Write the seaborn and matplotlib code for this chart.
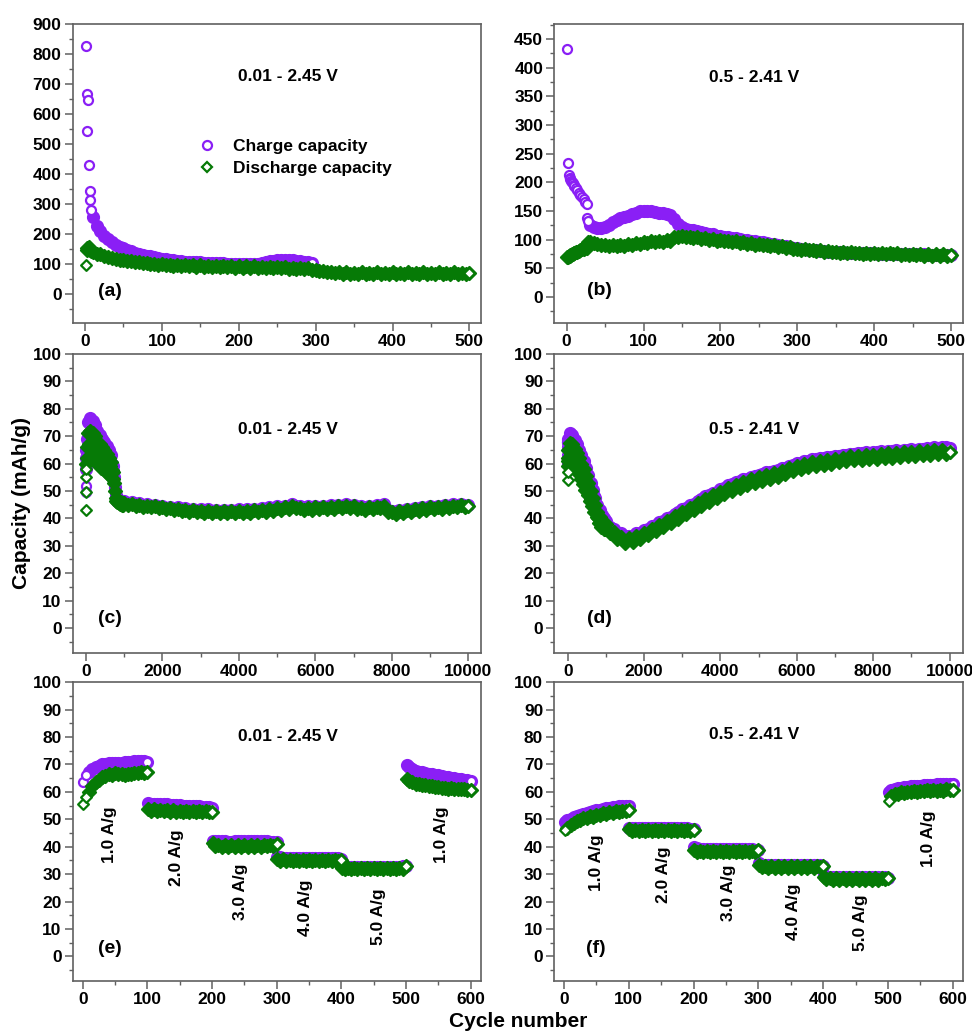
import numpy as np
import matplotlib
matplotlib.use("Agg")
import matplotlib.pyplot as plt
from matplotlib.lines import Line2D
from matplotlib.ticker import MultipleLocator
import seaborn as sns

sns.set_style("ticks")
plt.rcParams["font.family"] = ["Liberation Sans", "DejaVu Sans"]
plt.rcParams["font.weight"] = "bold"
plt.rcParams["text.color"] = "black"

PURPLE = "#8a1ff5"
GREEN = "#067a06"

# ======== (a) 0.01 - 2.45 V, 500 cycles ========
a_head_cyc = [1, 2, 3, 4, 5, 6, 7, 8]
a_chg_head = [827, 543, 665, 645, 430, 344, 313, 280]
a_dis_head = [97, 148, 152, 153, 155, 150, 147, 144]
a_chg_cyc = np.arange(10, 296, 5)
a_chg = [255, 228, 210, 194, 182, 172, 164, 157, 152, 147,
         142, 138, 134, 131, 128, 125, 122, 120, 118, 116,
         114, 112, 110, 109, 108, 107, 106, 105, 105, 104,
         104, 103, 103, 102, 102, 101, 101, 100, 100, 100,
         100, 100, 100, 101, 103, 106, 109, 111, 112, 113,
         113, 113, 112, 111, 110, 108, 106, 104]
a_dis_cyc = np.arange(10, 501, 5)
a_dis = [140, 134, 132, 125, 124, 119, 118, 113, 113, 109,
         109, 105, 106, 102, 103, 99, 101, 97, 99, 96,
         98, 94, 97, 93, 96, 92, 96, 91, 95, 91,
         94, 90, 94, 89, 93, 89, 93, 88, 93, 88,
         92, 88, 92, 87, 91, 86, 90, 86, 90, 85,
         89, 84, 88, 83, 86, 82, 85, 80, 80, 76,
         77, 72, 73, 69, 72, 68, 72, 67, 71, 67,
         72, 67, 71, 67, 72, 66, 71, 67, 72, 66,
         71, 67, 72, 66, 71, 67, 72, 66, 71, 67,
         72, 66, 71, 67, 72, 66, 71, 67, 70]

# ======== (b) 0.5 - 2.41 V, 500 cycles ========
b_head_cyc = [1, 2, 3, 4, 5, 6, 7, 8, 9, 10, 12, 14, 16, 18, 20, 22, 24, 26, 27, 28]
b_chg_head = [432, 233, 212, 208, 205, 203, 200, 198, 196, 194,
              190, 186, 182, 178, 175, 170, 166, 162, 138, 132]
b_dis_head = [70, 70, 71, 72, 73, 73, 74, 75, 76, 77,
              78, 79, 80, 82, 83, 84, 85, 86, 93, 95]
b_body_cyc = np.arange(30, 501, 5)
b_chg = [125, 122, 120, 120, 122, 126, 130, 134, 137, 140,
         142, 145, 147, 149, 150, 150, 149, 148, 147, 146,
         145, 143, 136, 128, 122, 119, 117, 116, 115, 113,
         112, 110, 109, 107, 106, 105, 104, 103, 102, 101,
         100, 99, 98, 97, 96, 95, 94, 93, 92, 91,
         89, 88, 87, 86, 85, 84, 83, 82, 82, 81,
         80, 80, 79, 79, 78, 78, 78, 77, 77, 77,
         76, 76, 76, 76, 76, 75, 75, 75, 75, 75,
         75, 74, 74, 74, 74, 74, 74, 74, 73, 73,
         73, 73, 73, 73, 73]
b_dis = [96, 94, 93, 90, 90, 88, 90, 88, 91, 89,
         93, 91, 94, 93, 96, 94, 97, 95, 98, 96,
         99, 97, 104, 105, 107, 105, 105, 103, 104, 101,
         102, 100, 101, 98, 100, 97, 98, 96, 97, 94,
         96, 93, 94, 91, 93, 90, 91, 88, 90, 87,
         88, 85, 87, 83, 84, 82, 83, 81, 82, 80,
         81, 79, 80, 78, 79, 77, 79, 77, 78, 76,
         77, 75, 77, 75, 76, 74, 76, 74, 76, 74,
         76, 73, 75, 73, 75, 73, 75, 72, 74, 72,
         74, 72, 74, 72, 73]

# ======== (c) 0.01 - 2.45 V, 10000 cycles ========
c_head_cyc = [1, 2, 3, 4, 5]
c_chg_head = [52, 49.5, 58, 62, 65]
c_dis_head = [43, 49.5, 55, 58, 60]
c_early_cyc = np.arange(20, 1000, 20)
c_chg_early = [69, 65, 75, 71, 66, 76.5, 71, 66, 75.5, 70,
               65, 74, 69, 64, 72, 68, 63, 70.5, 66.5, 62,
               69, 65.5, 61, 68, 64, 60, 66.5, 63, 59.5, 65,
               62, 58.5, 63, 60, 57, 59, 55, 51.5, 48.5, 47,
               46.5, 47, 46, 46.5, 45.8, 46.3, 45.5, 46, 45.3]
c_dis_early = [66, 62, 71, 67, 62, 72, 66.5, 61.5, 71, 66,
               61, 70, 65, 60.5, 68, 64, 59.5, 67, 63, 58.5,
               66, 62, 58, 65, 61, 57, 63.5, 60, 56.5, 62,
               59, 55.5, 60.5, 57.5, 54.5, 57, 53, 50, 47.5, 46.5,
               46, 46.5, 45.5, 46, 45.3, 45.8, 45, 45.5, 44.8]
c_late_cyc = np.arange(1000, 10001, 100)
c_chg_late = [46.2, 45.5, 45.9, 45.2, 45.6, 44.9, 45.3, 44.6, 45.0, 44.3,
              44.6, 43.9, 44.3, 43.6, 44.0, 43.3, 43.7, 43.0, 43.5, 42.8,
              43.4, 42.6, 43.3, 42.5, 43.2, 42.5, 43.2, 42.5, 43.2, 42.5,
              43.3, 42.6, 43.4, 42.7, 43.6, 42.9, 43.8, 43.1, 44.1, 43.4,
              44.4, 43.7, 44.7, 44.0, 45.2, 44.6, 44.5, 43.8, 44.5, 43.8,
              44.6, 43.9, 44.7, 44.0, 44.9, 44.2, 45.0, 44.3, 45.2, 44.5,
              45.0, 44.0, 44.5, 43.8, 44.7, 44.0, 44.9, 44.3, 45.4, 43.0,
              42.6, 42.0, 42.9, 42.4, 43.4, 42.8, 43.8, 43.2, 44.1, 43.5,
              44.5, 43.9, 44.7, 44.1, 44.9, 44.3, 45.1, 44.5, 45.3, 44.7,
              44.8]
c_dis_late = [45.6, 44.9, 45.3, 44.6, 45.0, 44.3, 44.7, 44.0, 44.4, 43.7,
              44.0, 43.3, 43.7, 43.0, 43.4, 42.7, 43.1, 42.4, 42.9, 42.2,
              42.8, 42.0, 42.7, 41.9, 42.6, 41.9, 42.6, 41.9, 42.6, 41.9,
              42.7, 42.0, 42.8, 42.1, 43.0, 42.3, 43.2, 42.5, 43.5, 42.8,
              43.8, 43.1, 44.1, 43.4, 44.4, 43.7, 43.9, 43.2, 43.9, 43.2,
              44.0, 43.3, 44.1, 43.4, 44.3, 43.6, 44.4, 43.7, 44.6, 43.9,
              44.4, 43.4, 43.9, 43.2, 44.1, 43.4, 44.3, 43.7, 44.6, 42.5,
              42.3, 41.7, 42.6, 42.0, 43.0, 42.4, 43.4, 42.8, 43.7, 43.1,
              44.0, 43.4, 44.2, 43.6, 44.4, 43.8, 44.6, 44.0, 44.8, 44.2,
              44.4]

# ======== (d) 0.5 - 2.41 V, 10000 cycles ========
d_head_cyc = [1, 2, 3, 4, 5]
d_chg_head = [60, 63, 66, 68, 69]
d_dis_head = [54, 57, 59, 61, 62]
d_early_cyc = np.arange(20, 1000, 20)
d_chg_early = [68, 64, 71, 67, 63.5, 70.5, 66, 62.5, 68.5, 64.5,
               61, 67, 63, 59.5, 65, 61, 57.5, 63, 59, 55.5,
               61, 57, 53.5, 58.5, 55, 51.5, 56, 52.5, 49.5, 53,
               50, 47.5, 50.5, 48, 45.5, 47.5, 45, 43, 45, 42.8,
               41, 43, 41, 39.5, 41.3, 39.6, 38.3, 40, 38.5]
d_dis_early = [65, 61, 67.5, 64, 60.5, 67, 63, 59.5, 65.5, 61.5,
               58, 64, 60, 56.5, 62, 58, 54.5, 60, 56, 52.5,
               58, 54, 50.5, 55.5, 52, 48.5, 53, 49.5, 46.5, 50,
               47, 44.5, 47.5, 45, 42.5, 45, 42.5, 40.5, 42.5, 40.3,
               38.5, 40.5, 38.5, 37, 39, 37.3, 36, 37.8, 36.2]
d_late_cyc = np.arange(1000, 10001, 100)
d_chg_late = [39.0, 37.0, 36.0, 34.8, 34.5, 33.5, 33.7, 33.4, 34.7, 34.8,
              35.8, 36.2, 37.2, 37.6, 38.6, 39.0, 40.1, 40.6, 41.7, 42.2,
              43.3, 43.8, 44.9, 45.4, 46.5, 47.0, 48.0, 48.4, 49.4, 49.8,
              50.8, 51.2, 52.1, 52.4, 53.3, 53.5, 54.3, 54.5, 55.2, 55.3,
              56.0, 56.1, 56.8, 56.8, 57.4, 57.5, 58.3, 58.5, 59.3, 59.5,
              60.2, 60.3, 60.9, 60.9, 61.5, 61.5, 62.0, 61.9, 62.4, 62.3,
              62.8, 62.7, 63.2, 63.1, 63.6, 63.5, 63.9, 63.7, 64.1, 63.9,
              64.3, 64.1, 64.5, 64.3, 64.7, 64.5, 64.9, 64.7, 65.1, 64.9,
              65.3, 65.1, 65.5, 65.3, 65.7, 65.5, 65.9, 65.7, 66.1, 65.9,
              65.8]
d_dis_late = [38.0, 34.7, 35.0, 32.4, 33.3, 31.2, 32.7, 31.4, 33.6, 32.6,
              34.8, 33.9, 36.2, 35.3, 37.6, 36.7, 39.1, 38.3, 40.7, 39.9,
              42.3, 41.5, 43.9, 43.1, 45.5, 44.7, 47.0, 46.1, 48.4, 47.5,
              49.8, 48.9, 51.1, 50.1, 52.3, 51.2, 53.3, 52.2, 54.2, 53.0,
              55.0, 53.8, 55.8, 54.5, 56.4, 55.2, 57.3, 56.2, 58.3, 57.2,
              59.2, 58.0, 59.9, 58.6, 60.5, 59.2, 61.0, 59.6, 61.4, 60.0,
              61.8, 60.4, 62.2, 60.8, 62.6, 61.2, 62.9, 61.4, 63.1, 61.6,
              63.3, 61.8, 63.5, 62.0, 63.7, 62.2, 63.9, 62.4, 64.1, 62.6,
              64.3, 62.8, 64.5, 63.0, 64.7, 63.2, 64.9, 63.4, 65.1, 63.6,
              64.4]

# ======== (e)/(f) rate test, 6 steps x 100 cycles ========
rate_cyc = np.r_[1, np.arange(5, 101, 5)]
rate_labels = ["1.0 A/g", "2.0 A/g", "3.0 A/g", "4.0 A/g", "5.0 A/g", "1.0 A/g"]

e_chg = [
    [63.5, 66.0, 67.3, 68.3, 69.0, 69.6, 70.0, 70.3, 70.5, 70.6, 70.6,
     70.6, 70.7, 70.8, 70.9, 71.0, 71.1, 71.2, 71.2, 71.1, 70.8],
    [55.8, 55.7, 55.6, 55.6, 55.5, 55.4, 55.4, 55.3, 55.2, 55.2, 55.1,
     55.0, 55.0, 54.9, 54.8, 54.7, 54.7, 54.6, 54.5, 54.4, 54.0],
    [42.0, 42.0, 41.9, 41.9, 41.9, 41.8, 41.8, 41.9, 41.9, 41.9, 42.0,
     42.0, 42.0, 41.9, 41.9, 41.9, 41.9, 41.9, 41.8, 41.8, 41.8],
    [36.2, 36.1, 36.0, 36.0, 36.0, 35.9, 35.9, 35.9, 35.9, 35.9, 35.9,
     35.9, 35.9, 35.9, 35.9, 35.9, 35.9, 35.8, 35.8, 35.8, 35.6],
    [32.8, 32.7, 32.6, 32.6, 32.6, 32.6, 32.6, 32.6, 32.6, 32.6, 32.6,
     32.6, 32.6, 32.6, 32.6, 32.6, 32.6, 32.6, 32.7, 32.8, 32.9],
    [69.8, 69.0, 68.3, 67.8, 67.4, 67.1, 66.8, 66.6, 66.4, 66.2, 66.0,
     65.8, 65.6, 65.4, 65.2, 65.0, 64.8, 64.6, 64.4, 64.2, 63.9],
]
e_dis = [
    [55.5, 58.0, 60.0, 62.0, 63.5, 64.5, 65.5, 65.8, 66.5, 66.3, 66.8,
     66.4, 66.6, 66.3, 66.7, 66.5, 67.0, 66.8, 67.2, 67.0, 67.1],
    [53.8, 53.2, 53.6, 53.0, 53.5, 52.9, 53.4, 52.8, 53.3, 52.8, 53.2,
     52.7, 53.2, 52.7, 53.1, 52.6, 53.1, 52.6, 53.0, 52.6, 52.5],
    [41.2, 40.3, 40.8, 40.0, 40.7, 40.0, 40.7, 40.0, 40.7, 40.0, 40.7,
     40.0, 40.7, 40.0, 40.7, 40.0, 40.7, 40.1, 40.8, 40.2, 41.1],
    [35.6, 34.9, 35.4, 34.8, 35.3, 34.8, 35.3, 34.8, 35.3, 34.8, 35.3,
     34.8, 35.3, 34.8, 35.3, 34.8, 35.3, 34.8, 35.3, 34.9, 35.3],
    [32.4, 31.8, 32.3, 31.8, 32.3, 31.8, 32.3, 31.8, 32.3, 31.8, 32.3,
     31.8, 32.3, 31.8, 32.3, 31.8, 32.3, 31.8, 32.3, 32.0, 32.9],
    [64.8, 64.0, 63.6, 63.0, 62.9, 62.4, 62.4, 62.0, 62.0, 61.7, 61.7,
     61.4, 61.5, 61.2, 61.3, 61.0, 61.1, 60.9, 61.0, 60.8, 60.8],
]
f_chg = [
    [49.0, 49.6, 50.2, 50.8, 51.3, 51.7, 52.0, 52.4, 52.7, 53.0, 53.3,
     53.5, 53.8, 54.0, 54.2, 54.4, 54.6, 54.7, 54.8, 54.9, 54.7],
    [46.9, 46.8, 46.8, 46.8, 46.8, 46.8, 46.8, 46.8, 46.8, 46.8, 46.8,
     46.8, 46.8, 46.8, 46.8, 46.8, 46.8, 46.7, 46.7, 46.6, 46.3],
    [39.8, 39.4, 39.2, 39.1, 39.1, 39.0, 39.0, 39.0, 39.0, 39.0, 39.0,
     39.0, 39.0, 39.0, 39.0, 39.0, 39.0, 39.0, 39.0, 38.9, 38.8],
    [33.9, 33.4, 33.3, 33.3, 33.3, 33.3, 33.3, 33.3, 33.3, 33.3, 33.3,
     33.3, 33.3, 33.3, 33.3, 33.3, 33.3, 33.3, 33.3, 33.2, 33.1],
    [29.6, 29.1, 29.0, 29.0, 29.0, 29.0, 29.0, 29.0, 29.0, 29.0, 29.0,
     29.0, 29.0, 29.0, 29.0, 29.0, 29.0, 29.0, 29.0, 28.9, 28.7],
    [59.8, 60.8, 61.2, 61.4, 61.6, 61.8, 61.9, 62.0, 62.1, 62.2, 62.3,
     62.4, 62.5, 62.6, 62.6, 62.7, 62.8, 62.8, 62.9, 63.0, 63.0],
]
f_dis = [
    [46.0, 47.0, 48.0, 48.6, 49.5, 49.6, 50.5, 50.5, 51.2, 51.0, 51.7,
     51.5, 52.2, 51.9, 52.6, 52.3, 52.9, 52.6, 53.2, 53.0, 53.5],
    [46.4, 45.7, 46.2, 45.6, 46.2, 45.6, 46.2, 45.6, 46.2, 45.6, 46.2,
     45.6, 46.2, 45.6, 46.2, 45.6, 46.2, 45.6, 46.2, 45.7, 46.2],
    [38.9, 38.1, 38.6, 38.0, 38.6, 38.0, 38.6, 38.0, 38.6, 38.0, 38.6,
     38.0, 38.6, 38.0, 38.6, 38.0, 38.6, 38.0, 38.6, 38.1, 38.7],
    [33.3, 32.6, 33.0, 32.4, 33.0, 32.4, 33.0, 32.4, 33.0, 32.4, 33.0,
     32.4, 33.0, 32.4, 33.0, 32.4, 33.0, 32.4, 33.0, 32.5, 33.0],
    [28.9, 28.3, 28.6, 28.0, 28.6, 28.0, 28.6, 28.0, 28.6, 28.0, 28.6,
     28.0, 28.6, 28.0, 28.6, 28.0, 28.6, 28.0, 28.6, 28.1, 28.6],
    [56.5, 58.5, 59.2, 59.4, 59.8, 59.7, 60.1, 59.9, 60.3, 60.1, 60.5,
     60.2, 60.6, 60.3, 60.7, 60.4, 60.8, 60.5, 60.9, 60.6, 60.8],
]


def draw(ax, cyc, vals, kind, n_open=0):
    # dense runs of hollow symbols merge into a solid band; the first
    # n_open points stand alone (hollow) and the last one is white-filled
    cyc = np.asarray(cyc, dtype=float)
    vals = np.asarray(vals, dtype=float)
    col = PURPLE if kind == "chg" else GREEN
    mk = "o" if kind == "chg" else "D"
    sz = 42 if kind == "chg" else 30
    band_sz = 62 if kind == "chg" else 44
    z = 2 if kind == "chg" else 3
    opts = dict(ax=ax, marker=mk, color=col, edgecolor=col,
                linewidth=1.6, legend=False)
    sns.scatterplot(x=cyc[n_open:], y=vals[n_open:], facecolor=col,
                    s=band_sz, zorder=z, **opts)
    if n_open:
        sns.scatterplot(x=cyc[:n_open], y=vals[:n_open], facecolor="white",
                        s=sz, zorder=z + 0.2, **opts)
    sns.scatterplot(x=cyc[-1:], y=vals[-1:], facecolor="white",
                    s=sz, zorder=z + 0.5, **opts)


def style(ax, xlim, ylim, xmaj, ymaj):
    ax.set_xlim(*xlim)
    ax.set_ylim(*ylim)
    ax.xaxis.set_major_locator(MultipleLocator(xmaj))
    ax.xaxis.set_minor_locator(MultipleLocator(xmaj / 2))
    ax.yaxis.set_major_locator(MultipleLocator(ymaj))
    ax.yaxis.set_minor_locator(MultipleLocator(ymaj / 2))
    ax.tick_params(which="major", direction="out", length=5.5, width=1.1,
                   color="#606060", labelcolor="black", labelsize=12.5, pad=2.5)
    ax.tick_params(which="minor", direction="out", length=3, width=1.0,
                   color="#606060")
    for sp in ax.spines.values():
        sp.set_color("#606060")
        sp.set_linewidth(1.2)
    ax.set_xlabel("")
    ax.set_ylabel("")


fig = plt.figure(figsize=(9.72, 10.35), dpi=100)
lefts = [0.0748, 0.5703]
bottoms = [0.6882, 0.3694, 0.0522]
w, h = 0.420, 0.2886
axs = [[fig.add_axes([l, b, w, h]) for l in lefts] for b in bottoms]
ax_a, ax_b = axs[0]
ax_c, ax_d = axs[1]
ax_e, ax_f = axs[2]

# (a)
draw(ax_a, np.r_[a_head_cyc, a_chg_cyc], a_chg_head + a_chg, "chg", n_open=8)
draw(ax_a, np.r_[a_head_cyc, a_dis_cyc], a_dis_head + a_dis, "dis", n_open=1)
style(ax_a, (-16, 515), (-96, 900), 100, 100)

# (b)
draw(ax_b, np.r_[b_head_cyc, b_body_cyc], b_chg_head + b_chg, "chg", n_open=20)
draw(ax_b, np.r_[b_head_cyc, b_body_cyc], b_dis_head + b_dis, "dis")
style(ax_b, (-16, 515), (-45, 476), 100, 50)

# (c)
c_cyc = np.r_[c_head_cyc, c_early_cyc, c_late_cyc]
draw(ax_c, c_cyc, c_chg_head + c_chg_early + c_chg_late, "chg", n_open=2)
draw(ax_c, c_cyc, c_dis_head + c_dis_early + c_dis_late, "dis", n_open=4)
style(ax_c, (-345, 10330), (-9, 100), 2000, 10)

# (d)
d_cyc = np.r_[d_head_cyc, d_early_cyc, d_late_cyc]
draw(ax_d, d_cyc, d_chg_head + d_chg_early + d_chg_late, "chg")
draw(ax_d, d_cyc, d_dis_head + d_dis_early + d_dis_late, "dis", n_open=2)
style(ax_d, (-350, 10340), (-9, 100), 2000, 10)

# (e), (f)
first_open = {"e": (2, 2), "f": (0, 1)}
for key, ax, chg, dis in [("e", ax_e, e_chg, e_dis), ("f", ax_f, f_chg, f_dis)]:
    for k in range(6):
        oc, od = first_open[key] if k == 0 else (0, 1 if (key == "f" and k == 5) else 0)
        draw(ax, rate_cyc + 100 * k, chg[k], "chg", n_open=oc)
        draw(ax, rate_cyc + 100 * k, dis[k], "dis", n_open=od)
style(ax_e, (-15.5, 616), (-9, 100), 100, 10)
style(ax_f, (-15, 615), (-9, 100), 100, 10)

e_lab_pos = [(42, 44.3), (145, 35.9), (244, 23.7), (344, 17.9), (457, 14.6), (555, 44.3)]
f_lab_pos = [(50, 34.0), (153, 29.8), (254, 23.1), (354, 16.4), (457, 12.2), (562, 43.1)]
for ax, pos in [(ax_e, e_lab_pos), (ax_f, f_lab_pos)]:
    for lab, (x, y) in zip(rate_labels, pos):
        ax.text(x, y, lab, rotation=90, ha="center", va="center", fontsize=12.5)

# voltage windows and panel letters
windows = ["0.01 - 2.45 V", "0.5 - 2.41 V"]
win_pos = [[(0.527, 0.823), (0.490, 0.822)],
           [(0.527, 0.748), (0.490, 0.748)],
           [(0.527, 0.818), (0.490, 0.824)]]
letters = [["(a)", "(b)"], ["(c)", "(d)"], ["(e)", "(f)"]]
let_pos = [[(0.091, 0.104), (0.110, 0.107)],
           [(0.091, 0.115), (0.110, 0.115)],
           [(0.091, 0.109), (0.102, 0.109)]]
for r in range(3):
    for c in range(2):
        ax = axs[r][c]
        ax.text(*win_pos[r][c], windows[c], transform=ax.transAxes,
                ha="center", va="center", fontsize=12.5)
        ax.text(*let_pos[r][c], letters[r][c], transform=ax.transAxes,
                ha="center", va="center", fontsize=14)

handles = [
    Line2D([], [], ls="", marker="o", ms=6.5, mfc="none", mec=PURPLE, mew=1.6),
    Line2D([], [], ls="", marker="D", ms=5.5, mfc="none", mec=GREEN, mew=1.6),
]
ax_a.legend(handles, ["Charge capacity", "Discharge capacity"],
            loc="upper left", bbox_to_anchor=(0.3076, 0.615), frameon=False,
            fontsize=12.5, handlelength=1.0, handletextpad=1.0,
            labelspacing=0.38, borderpad=0, borderaxespad=0)

fig.text(0.0223, 0.514, "Capacity (mAh/g)", rotation=90, ha="center",
         va="center", fontsize=15)
fig.text(0.533, 0.0126, "Cycle number", ha="center", va="center", fontsize=15)

fig.savefig("out.png", dpi=100)
